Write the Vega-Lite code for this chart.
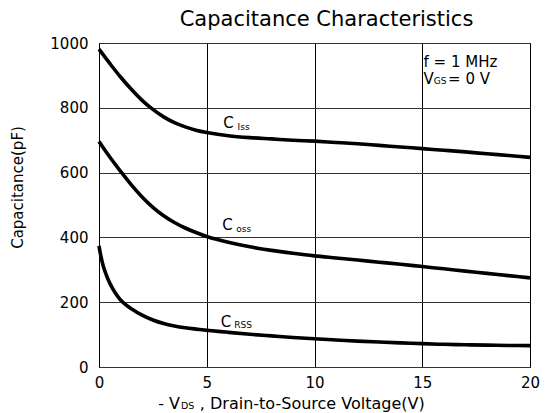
{
  "$schema": "https://vega.github.io/schema/vega-lite/v6.json",
  "width": 431,
  "height": 324,
  "autosize": "none",
  "padding": {"left": 99, "top": 43, "right": 16, "bottom": 46},
  "background": "white",
  "config": {
    "font": "DejaVu Sans",
    "view": {"stroke": "#000", "strokeWidth": 1}
  },
  "title": {
    "text": "Capacitance Characteristics",
    "font": "DejaVu Sans",
    "fontSize": 21,
    "fontWeight": "normal",
    "color": "#000",
    "anchor": "middle",
    "offset": 6,
    "dx": 12
  },
  "datasets": {
    "curves": [
      {"s": "Ciss", "v": 0, "c": 981}, {"s": "Ciss", "v": 0.5, "c": 937}, {"s": "Ciss", "v": 1, "c": 895}, {"s": "Ciss", "v": 1.5, "c": 857}, {"s": "Ciss", "v": 2, "c": 823}, {"s": "Ciss", "v": 2.5, "c": 795}, {"s": "Ciss", "v": 3, "c": 772}, {"s": "Ciss", "v": 3.5, "c": 754}, {"s": "Ciss", "v": 4, "c": 741}, {"s": "Ciss", "v": 4.5, "c": 731}, {"s": "Ciss", "v": 5, "c": 724}, {"s": "Ciss", "v": 6, "c": 714}, {"s": "Ciss", "v": 7, "c": 708}, {"s": "Ciss", "v": 8, "c": 704}, {"s": "Ciss", "v": 9, "c": 700}, {"s": "Ciss", "v": 10, "c": 697}, {"s": "Ciss", "v": 11, "c": 693}, {"s": "Ciss", "v": 12, "c": 689}, {"s": "Ciss", "v": 13, "c": 684}, {"s": "Ciss", "v": 14, "c": 679}, {"s": "Ciss", "v": 15, "c": 674}, {"s": "Ciss", "v": 16, "c": 669}, {"s": "Ciss", "v": 17, "c": 664}, {"s": "Ciss", "v": 18, "c": 658}, {"s": "Ciss", "v": 19, "c": 653}, {"s": "Ciss", "v": 20, "c": 647},
      {"s": "Coss", "v": 0, "c": 696}, {"s": "Coss", "v": 0.5, "c": 648}, {"s": "Coss", "v": 1, "c": 604}, {"s": "Coss", "v": 1.5, "c": 562}, {"s": "Coss", "v": 2, "c": 525}, {"s": "Coss", "v": 2.5, "c": 493}, {"s": "Coss", "v": 3, "c": 467}, {"s": "Coss", "v": 3.5, "c": 446}, {"s": "Coss", "v": 4, "c": 429}, {"s": "Coss", "v": 4.5, "c": 415}, {"s": "Coss", "v": 5, "c": 403}, {"s": "Coss", "v": 6, "c": 385}, {"s": "Coss", "v": 7, "c": 371}, {"s": "Coss", "v": 8, "c": 360}, {"s": "Coss", "v": 9, "c": 351}, {"s": "Coss", "v": 10, "c": 343}, {"s": "Coss", "v": 11, "c": 336.5}, {"s": "Coss", "v": 12, "c": 330}, {"s": "Coss", "v": 13, "c": 323.5}, {"s": "Coss", "v": 14, "c": 317}, {"s": "Coss", "v": 15, "c": 310}, {"s": "Coss", "v": 16, "c": 303}, {"s": "Coss", "v": 17, "c": 296}, {"s": "Coss", "v": 18, "c": 289}, {"s": "Coss", "v": 19, "c": 282}, {"s": "Coss", "v": 20, "c": 275},
      {"s": "Crss", "v": 0, "c": 374}, {"s": "Crss", "v": 0.1, "c": 338}, {"s": "Crss", "v": 0.2, "c": 311}, {"s": "Crss", "v": 0.35, "c": 282}, {"s": "Crss", "v": 0.5, "c": 259}, {"s": "Crss", "v": 0.75, "c": 229}, {"s": "Crss", "v": 1, "c": 207}, {"s": "Crss", "v": 1.25, "c": 192}, {"s": "Crss", "v": 1.5, "c": 180}, {"s": "Crss", "v": 2, "c": 160}, {"s": "Crss", "v": 2.5, "c": 145}, {"s": "Crss", "v": 3, "c": 134}, {"s": "Crss", "v": 3.5, "c": 126.5}, {"s": "Crss", "v": 4, "c": 121}, {"s": "Crss", "v": 4.5, "c": 117}, {"s": "Crss", "v": 5, "c": 113.5}, {"s": "Crss", "v": 6, "c": 107}, {"s": "Crss", "v": 7, "c": 101}, {"s": "Crss", "v": 8, "c": 96}, {"s": "Crss", "v": 9, "c": 91}, {"s": "Crss", "v": 10, "c": 87}, {"s": "Crss", "v": 11, "c": 83.5}, {"s": "Crss", "v": 12, "c": 80}, {"s": "Crss", "v": 13, "c": 77}, {"s": "Crss", "v": 14, "c": 74.5}, {"s": "Crss", "v": 15, "c": 72}, {"s": "Crss", "v": 16, "c": 70}, {"s": "Crss", "v": 17, "c": 68.5}, {"s": "Crss", "v": 18, "c": 67.5}, {"s": "Crss", "v": 19, "c": 66.5}, {"s": "Crss", "v": 20, "c": 66}
    ],
    "big": [
      {"v": 5.77, "c": 738, "t": "C"},
      {"v": 5.72, "c": 424, "t": "C"},
      {"v": 5.65, "c": 122, "t": "C"},
      {"v": 15.06, "c": 926, "t": "f = 1 MHz"},
      {"v": 15.06, "c": 872, "t": "V"},
      {"v": 16.2, "c": 872, "t": "= 0 V"}
    ],
    "small": [
      {"v": 6.43, "c": 732, "t": "Iss"},
      {"v": 6.37, "c": 418, "t": "oss"},
      {"v": 6.28, "c": 119, "t": "RSS"},
      {"v": 15.53, "c": 872, "t": "GS"}
    ],
    "xtitle": [
      {"v": 2.75, "c": -129.6, "t": "- V"},
      {"v": 4.68, "c": -129.6, "t": ", Drain-to-Source Voltage(V)"}
    ],
    "xtitlesub": [
      {"v": 3.8, "c": -129.6, "t": "DS"}
    ]
  },
  "layer": [
    {
      "data": {"name": "curves"},
      "mark": {"type": "line", "color": "#000", "strokeWidth": 3.6, "interpolate": "catmull-rom"},
      "encoding": {
        "x": {
          "field": "v", "type": "quantitative",
          "scale": {"domain": [0, 20], "nice": false},
          "axis": {
            "values": [0, 5, 10, 15, 20],
            "title": null,
            "grid": true, "gridColor": "#000", "gridOpacity": 1, "gridWidth": 1,
            "ticks": false, "domain": false,
            "labelFont": "DejaVu Sans", "labelFontSize": 15, "labelColor": "#000",
            "labelPadding": 8, "labelFlush": false
          }
        },
        "y": {
          "field": "c", "type": "quantitative",
          "scale": {"domain": [0, 1000], "nice": false},
          "axis": {
            "values": [0, 200, 400, 600, 800, 1000],
            "format": "d",
            "title": "Capacitance(pF)",
            "titleFont": "DejaVu Sans", "titleFontSize": 15, "titleFontWeight": "normal", "titleColor": "#000",
            "titleX": -82, "titleY": 144, "titleBaseline": "middle", "titleAngle": -90,
            "grid": true, "gridColor": "#333", "gridOpacity": 1, "gridWidth": 1,
            "ticks": false, "domain": false,
            "labelFont": "DejaVu Sans", "labelFontSize": 15, "labelColor": "#000",
            "labelPadding": 11, "labelFlush": false
          }
        },
        "detail": {"field": "s"}
      }
    },
    {
      "data": {"name": "big"},
      "mark": {"type": "text", "align": "left", "baseline": "alphabetic", "fontSize": 15, "font": "DejaVu Sans", "color": "#000"},
      "encoding": {
        "x": {"field": "v", "type": "quantitative"},
        "y": {"field": "c", "type": "quantitative"},
        "text": {"field": "t"}
      }
    },
    {
      "data": {"name": "small"},
      "mark": {"type": "text", "align": "left", "baseline": "alphabetic", "fontSize": 9, "font": "DejaVu Sans", "color": "#000"},
      "encoding": {
        "x": {"field": "v", "type": "quantitative"},
        "y": {"field": "c", "type": "quantitative"},
        "text": {"field": "t"}
      }
    },
    {
      "data": {"name": "xtitle"},
      "mark": {"type": "text", "align": "left", "baseline": "alphabetic", "fontSize": 16, "font": "DejaVu Sans", "color": "#000"},
      "encoding": {
        "x": {"field": "v", "type": "quantitative"},
        "y": {"field": "c", "type": "quantitative"},
        "text": {"field": "t"}
      }
    },
    {
      "data": {"name": "xtitlesub"},
      "mark": {"type": "text", "align": "left", "baseline": "alphabetic", "fontSize": 9.5, "font": "DejaVu Sans", "color": "#000"},
      "encoding": {
        "x": {"field": "v", "type": "quantitative"},
        "y": {"field": "c", "type": "quantitative"},
        "text": {"field": "t"}
      }
    }
  ]
}
